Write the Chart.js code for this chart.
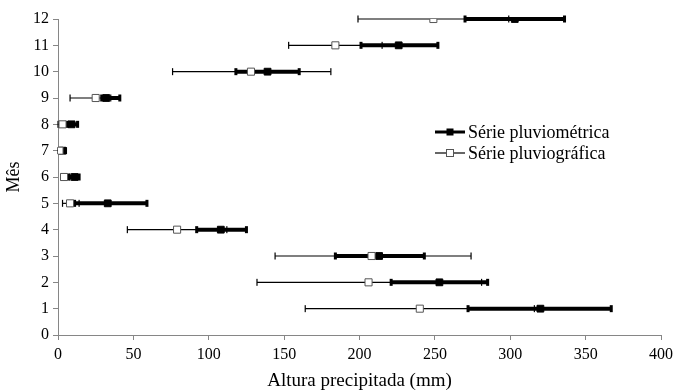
<!DOCTYPE html>
<html>
<head>
<meta charset="utf-8">
<script src="https://cdn.jsdelivr.net/npm/chart.js@4.4.1/dist/chart.umd.min.js"></script>
<style>
  html, body { margin: 0; padding: 0; background: #fff; }
  #wrap { position: relative; width: 678px; height: 392px; }
</style>
</head>
<body>
<div id="wrap"><canvas id="chart"></canvas></div>
<script>
// Months (y axis) and precipitation ranges (mm)
const MONTHS = [1, 2, 3, 4, 5, 6, 7, 8, 9, 10, 11, 12];

// Série pluviométrica (thick, filled squares)
const pluvioMin  = [272, 221, 184, 92, 11, 7, 1, 6, 29, 118, 201, 270];
const pluvioMean = [320, 253, 213, 108, 33, 11, 3, 9, 32, 139, 226, 303];
const pluvioMax  = [367, 285, 243, 125, 59, 14, 5, 13, 41, 160, 252, 336];

// Série pluviográfica (thin, open squares)
const grafMin  = [164, 132, 144, 46, 3, 2, 0, 0, 8, 76, 153, 199];
const grafMean = [240, 206, 208, 79, 8, 4, 1, 3, 25, 128, 184, 249];
const grafMax  = [316, 281, 274, 112, 14, 8, 2, 7, 35, 181, 215, 299];

const X_TICKS = [0, 50, 100, 150, 200, 250, 300, 350, 400];
const SERIES_LABELS = ['Série pluviométrica', 'Série pluviográfica'];

const FONT = "'Liberation Serif', 'Times New Roman', serif";
const AXIS_GREY = '#868686';

function toPoints(values) {
  return MONTHS.map((m, i) => ({ x: values[i], y: m }));
}

// Horizontal range line with end caps, drawn through the chart scales
function drawRanges(ctx, xs, ys, mins, maxs, lineW, capW, capH) {
  ctx.save();
  ctx.strokeStyle = '#000';
  ctx.fillStyle = '#000';
  MONTHS.forEach((m, i) => {
    const y = ys.getPixelForValue(m);
    const x0 = xs.getPixelForValue(mins[i]);
    const x1 = xs.getPixelForValue(maxs[i]);
    ctx.lineWidth = lineW;
    ctx.beginPath();
    ctx.moveTo(x0, y);
    ctx.lineTo(x1, y);
    ctx.stroke();
    ctx.fillRect(x0 - capW / 2, y - capH, capW, capH * 2);
    ctx.fillRect(x1 - capW / 2, y - capH, capW, capH * 2);
  });
  ctx.restore();
}

const errorBars = {
  id: 'errorBars',
  beforeDatasetsDraw(chart) {
    const { ctx, scales: { x, y } } = chart;
    drawRanges(ctx, x, y, grafMin, grafMax, 1.2, 1.2, 3.5);
    drawRanges(ctx, x, y, pluvioMin, pluvioMax, 4, 3, 3.5);
  }
};

// Legend drawn inside the plot, the way the original places it
const insideLegend = {
  id: 'insideLegend',
  afterDraw(chart) {
    const { ctx } = chart;
    const left = 435, top = 132, rowH = 21, lineLen = 30;
    ctx.save();
    ctx.font = '18px ' + FONT;
    ctx.textBaseline = 'middle';
    ctx.fillStyle = '#000';
    SERIES_LABELS.forEach((label, i) => {
      const y = top + i * rowH;
      ctx.strokeStyle = '#000';
      ctx.lineWidth = i === 0 ? 3 : 1.2;
      ctx.beginPath();
      ctx.moveTo(left, y);
      ctx.lineTo(left + lineLen, y);
      ctx.stroke();
      const cx = left + lineLen / 2;
      if (i === 0) {
        ctx.fillStyle = '#000';
        ctx.fillRect(cx - 3.5, y - 3.5, 7, 7);
      } else {
        ctx.fillStyle = '#fff';
        ctx.fillRect(cx - 3.5, y - 3.5, 7, 7);
        ctx.strokeStyle = '#555';
        ctx.lineWidth = 1;
        ctx.strokeRect(cx - 3.5, y - 3.5, 7, 7);
      }
      ctx.fillStyle = '#000';
      ctx.fillText(label, left + lineLen + 3, y + 1);
    });
    ctx.restore();
  }
};

new Chart(document.getElementById('chart'), {
  type: 'scatter',
  data: {
    datasets: [
      {
        label: SERIES_LABELS[1],
        data: toPoints(grafMean),
        pointStyle: 'rect',
        pointRadius: 5,
        pointBackgroundColor: '#fff',
        pointBorderColor: '#555',
        pointBorderWidth: 1,
        showLine: false,
        order: 0,
      },
      {
        label: SERIES_LABELS[0],
        data: toPoints(pluvioMean),
        pointStyle: 'rect',
        pointRadius: 4.8,
        pointBackgroundColor: '#000',
        pointBorderColor: '#000',
        pointBorderWidth: 1,
        showLine: false,
        order: 1,
      }
    ]
  },
  options: {
    responsive: true,
    maintainAspectRatio: false,
    animation: false,
    layout: { padding: { top: 19, right: 16, bottom: 0, left: 3 } },
    plugins: {
      legend: { display: false },
      tooltip: { enabled: false },
    },
    scales: {
      x: {
        type: 'linear',
        min: 0,
        max: 400,
        afterBuildTicks: (scale) => { scale.ticks = X_TICKS.map(v => ({ value: v })); },
        afterFit: (scale) => { scale.height = 57; },
        grid: { display: true, drawOnChartArea: false, drawTicks: true, tickLength: 5, color: AXIS_GREY },
        border: { display: true, color: AXIS_GREY, width: 1 },
        ticks: { color: '#000', font: { family: FONT, size: 16 }, padding: 5, maxRotation: 0 },
        title: { display: true, text: 'Altura precipitada (mm)', color: '#000', font: { family: FONT, size: 19 }, padding: { top: 6, bottom: 0 } },
      },
      y: {
        type: 'linear',
        min: 0,
        max: 12,
        ticks: { stepSize: 1, color: '#000', font: { family: FONT, size: 16 }, padding: 4 },
        afterFit: (scale) => { scale.width = 55; },
        grid: { display: true, drawOnChartArea: false, drawTicks: true, tickLength: 5, color: AXIS_GREY },
        border: { display: true, color: AXIS_GREY, width: 1 },
        title: { display: true, text: 'Mês', color: '#000', font: { family: FONT, size: 18 }, padding: 0 },
      }
    }
  },
  plugins: [errorBars, insideLegend]
});
</script>
</body>
</html>
